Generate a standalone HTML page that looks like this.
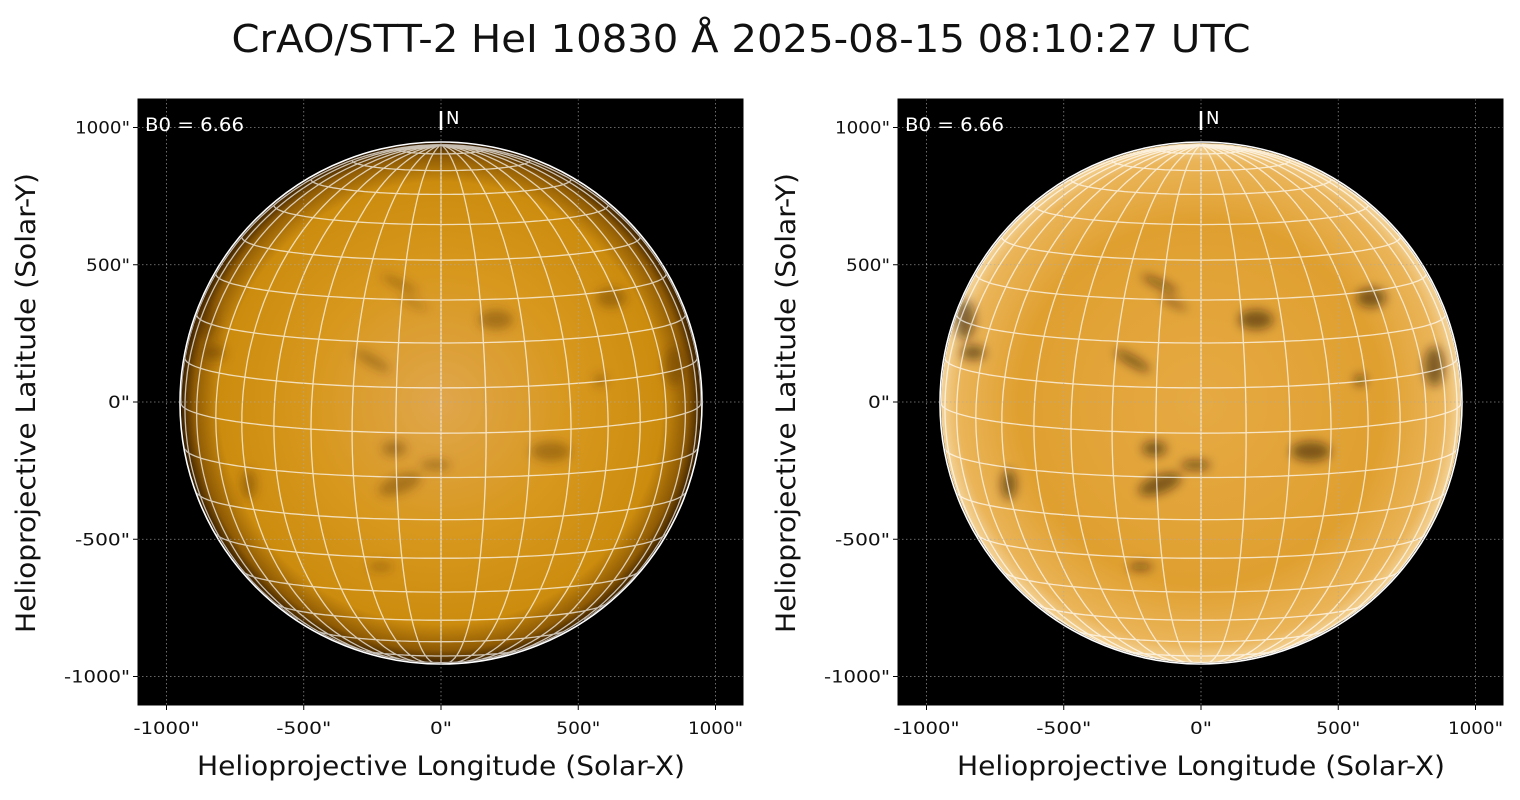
<!DOCTYPE html>
<html><head><meta charset="utf-8"><style>
body{margin:0;background:#fff;width:1520px;height:795px;overflow:hidden;font-family:"Liberation Sans","DejaVu Sans",sans-serif}
</style></head><body>
<svg id="s" width="1520" height="795" xmlns="http://www.w3.org/2000/svg" font-family="DejaVu Sans, Liberation Sans, sans-serif">
<defs>
<radialGradient id="gL" cx="0.5" cy="0.5" r="0.5">
<stop offset="0" stop-color="#e0a64c"/><stop offset="0.5" stop-color="#d8981e"/><stop offset="0.85" stop-color="#cc8c0e"/><stop offset="0.95" stop-color="#8e5a04"/><stop offset="1" stop-color="#3a2000"/>
</radialGradient>
<radialGradient id="gR" cx="0.5" cy="0.5" r="0.5">
<stop offset="0" stop-color="#e6aa44"/><stop offset="0.7" stop-color="#e0a030"/><stop offset="0.93" stop-color="#eab458"/><stop offset="1" stop-color="#f4d49a"/>
</radialGradient>
<filter id="bl"><feGaussianBlur stdDeviation="5"/></filter>
</defs>
<text x="741" y="52" font-size="38" text-anchor="middle" fill="#111" textLength="1019" lengthAdjust="spacingAndGlyphs">CrAO/STT-2 HeI 10830 Å 2025-08-15 08:10:27 UTC</text>
<g id="p0"></g><g id="p1"></g>
</svg>
<script>
const NS="http://www.w3.org/2000/svg";
function el(p,t,a,txt){const e=document.createElementNS(NS,t);for(const k in a)e.setAttribute(k,a[k]);if(txt!==undefined)e.textContent=txt;p.appendChild(e);return e;}
const B0=6.66*Math.PI/180;
const spots=[[-150,430,40,8,25],[-100,360,30,5,25],[-250,150,40,10,30],[-170,-170,25,15,0],[-150,-300,45,18,-20],[-20,-230,30,10,0],[-220,-600,25,8,0],[580,80,12,12,0],[850,130,20,40,0],[-830,180,25,15,0],[-860,300,20,40,0],[-700,-300,15,30,0],[400,-180,40,20,0],[620,380,30,20,0],[200,300,35,20,0]];
function panel(g,ox,right){
  const x0=ox,x1=ox+605,y0=99,y1=705;
  const sx=v=>ox+303+v*0.2745, sy=v=>402-v*0.2745;
  el(g,'rect',{x:x0,y:y0,width:605,height:606,fill:'#000'});
  const cx=sx(0),cy=403,R=260;
  el(g,'circle',{cx:cx,cy:cy,r:R,fill:right?'url(#gR)':'url(#gL)'});
  const clip=el(g,'clipPath',{id:'c'+ox});el(clip,'circle',{cx:cx,cy:cy,r:R});
  const sg=el(g,'g',{'clip-path':'url(#c'+ox+')',filter:'url(#bl)'});
  for(const s of spots){el(sg,'ellipse',{cx:sx(s[0]),cy:sy(s[1]),rx:s[2]*0.5,ry:s[3]*0.5,transform:`rotate(${s[4]} ${sx(s[0])} ${sy(s[1])})`,fill:right?'#2a1500':'#5a3000','fill-opacity':right?0.55:0.4});}
  let d='';
  const proj=(lat,lon)=>{const f=lat*Math.PI/180,l=lon*Math.PI/180;
    const X=Math.cos(f)*Math.sin(l),Y=Math.sin(f)*Math.cos(B0)-Math.cos(f)*Math.cos(l)*Math.sin(B0),Z=Math.sin(f)*Math.sin(B0)+Math.cos(f)*Math.cos(l)*Math.cos(B0);
    return [cx+R*X,cy-R*Y,Z];};
  for(let lon=-90;lon<=90;lon+=10){let pen=false;for(let lat=-90;lat<=90;lat+=1){const p=proj(lat,lon);if(p[2]>=-0.001){d+=(pen?'L':'M')+p[0].toFixed(1)+' '+p[1].toFixed(1);pen=true;}else pen=false;}}
  for(let lat=-80;lat<=80;lat+=10){let pen=false;for(let lon=-90;lon<=90;lon+=2){const p=proj(lat,lon);if(p[2]>=-0.001){d+=(pen?'L':'M')+p[0].toFixed(1)+' '+p[1].toFixed(1);pen=true;}else pen=false;}}
  el(g,'path',{d:d,fill:'none',stroke:'#fff','stroke-opacity':0.7,'stroke-width':1.3,'clip-path':'url(#c'+ox+')'});
  el(g,'circle',{cx:cx,cy:cy,r:R+1,fill:'none',stroke:'#fff','stroke-width':1.6});
  for(const v of [-1000,-500,0,500,1000]){
    el(g,'line',{x1:sx(v),x2:sx(v),y1:y0,y2:y1,stroke:'#aaa','stroke-width':0.8,'stroke-dasharray':'1.5,2.5','stroke-opacity':0.8});
    el(g,'line',{x1:x0,x2:x1,y1:sy(v),y2:sy(v),stroke:'#aaa','stroke-width':0.8,'stroke-dasharray':'1.5,2.5','stroke-opacity':0.8});
    el(g,'line',{x1:sx(v),x2:sx(v),y1:y1,y2:y1+5,stroke:'#000'});
    el(g,'line',{x1:x0-5,x2:x0,y1:sy(v),y2:sy(v),stroke:'#000'});
    const t=v+'"', w=t.length*11;
    el(g,'text',{x:sx(v),y:y1+29,'font-size':17,'text-anchor':'middle',fill:'#111',textLength:w,lengthAdjust:'spacingAndGlyphs'},t);
    el(g,'text',{x:x0-8,y:sy(v)+6,'font-size':17,'text-anchor':'end',fill:'#111',textLength:w,lengthAdjust:'spacingAndGlyphs'},t);
  }
  el(g,'rect',{x:x0,y:y0,width:605,height:606,fill:'none',stroke:'#000','stroke-width':1});
  el(g,'text',{x:x0+7,y:131,'font-size':19,fill:'#fff',textLength:99,lengthAdjust:'spacingAndGlyphs'},'B0 = 6.66');
  el(g,'line',{x1:cx,x2:cx,y1:111,y2:130,stroke:'#fff','stroke-width':2.5});
  el(g,'text',{x:cx+5,y:124,'font-size':18,fill:'#fff'},'N');
  el(g,'text',{x:ox+303,y:775,'font-size':27,'text-anchor':'middle',fill:'#111',textLength:488,lengthAdjust:'spacingAndGlyphs'},'Helioprojective Longitude (Solar-X)');
  el(g,'text',{x:0,y:0,'font-size':27,'text-anchor':'middle',fill:'#111',textLength:460,lengthAdjust:'spacingAndGlyphs',transform:`translate(${x0-103},403) rotate(-90)`},'Helioprojective Latitude (Solar-Y)');
}
panel(document.getElementById('p0'),138,false);
panel(document.getElementById('p1'),898,true);
</script>
</body></html>
